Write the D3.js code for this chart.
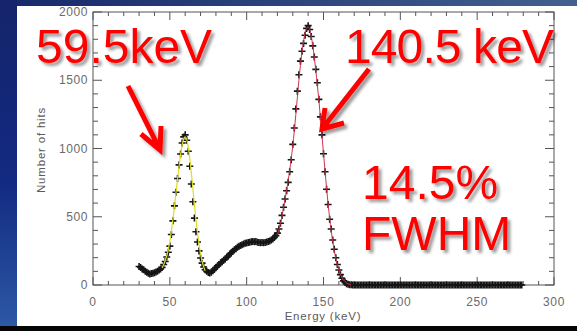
<!DOCTYPE html>
<html>
<head>
<meta charset="utf-8">
<script src="https://cdn.jsdelivr.net/npm/d3@7"></script>
<style>
  body { margin: 0; background: #fff; }
  svg { display: block; }
  .tick-label { font-family: "Liberation Sans", Arial, sans-serif; font-size: 12px; fill: #6a6a6a; letter-spacing: 0.6px; }
  .axis-title { font-family: "Liberation Sans", Arial, sans-serif; font-size: 11.5px; fill: #5a5a5a; letter-spacing: 0.8px; }
  .big { font-family: "Liberation Sans", Arial, sans-serif; font-size: 48px; fill: #ff0000; }
</style>
</head>
<body>
<svg id="chart" width="577" height="331"></svg>
<script>
// spectrum: 1 keV bins starting at 30 keV
var binStart = 30;
var counts = [
  135, 128, 118, 112, 100, 93, 86, 80, 84, 86,          // 30-39
  90, 96, 101, 110, 118, 128, 150, 172, 205, 240,       // 40-49
  285, 370, 470, 580, 680, 780, 880, 960, 1040, 1085,   // 50-59
  1100, 1060, 980, 870, 740, 610, 490, 390, 315, 250,   // 60-69
  198, 160, 132, 112, 100, 92, 88, 94, 104, 116,        // 70-79
  128, 140, 150, 161, 170, 182, 190, 201, 212, 226,     // 80-89
  236, 248, 259, 266, 277, 283, 290, 294, 301, 305,     // 90-99
  308, 312, 313, 317, 318, 316, 318, 313, 312, 309,     // 100-109
  311, 309, 312, 315, 318, 323, 329, 337, 348, 362,     // 110-119
  380, 410, 452, 510, 570, 630, 690, 752, 830, 918,     // 120-129
  1030, 1150, 1290, 1420, 1540, 1640, 1712, 1770, 1830, 1880, // 130-139
  1900, 1872, 1820, 1752, 1670, 1580, 1482, 1360, 1232, 1100, // 140-149
  962, 830, 702, 590, 482, 410, 330, 262, 200, 150,     // 150-159
  110, 76, 50, 30, 18, 10, 5, 2, 1,                     // 160-168
  0, 0, 0, 0, 0, 0, 0, 0, 0, 0, 0,                      // 169-179
  0, 0, 0, 0, 0, 0, 0, 0, 0, 0,
  0, 0, 0, 0, 0, 0, 0, 0, 0, 0,
  0, 0, 0, 0, 0, 0, 0, 0, 0, 0,
  0, 0, 0, 0, 0, 0, 0, 0, 0, 0,
  0, 0, 0, 0, 0, 0, 0, 0, 0, 0,
  0, 0, 0, 0, 0, 0, 0, 0, 0, 0,
  0, 0, 0, 0, 0, 0, 0, 0, 0, 0,
  0, 0, 0, 0, 0, 0, 0, 0, 0, 0,
  0, 0, 0, 0, 0, 0, 0, 0, 0, 0,
  0, 0, 0, 0, 0, 0, 0, 0, 0, 0                          // 270-279
];

// gaussian fits, 1 keV steps
var yellowStart = 45;
var yellowFit = [125, 150, 180, 215, 260, 320, 395, 480, 575, 675,
  775, 870, 955, 1025, 1070, 1085, 1065, 1010, 925, 820,
  705, 590, 480, 385, 300, 230, 175, 135, 105];
var redStart = 120;
var redFit = [370, 405, 450, 505, 565, 630, 695, 765, 840, 925,
  1020, 1130, 1250, 1375, 1500, 1610, 1705, 1785, 1845, 1880,
  1890, 1872, 1825, 1755, 1668, 1570, 1465, 1350, 1225, 1095,
  965, 835, 710, 595, 490, 400, 320, 252, 195, 148,
  110, 80, 56, 38, 25, 15, 8, 4, 1];

var xTicks = [0, 50, 100, 150, 200, 250, 300];
var yTicks = [0, 500, 1000, 1500, 2000];
var xTitle = "Energy (keV)";
var yTitle = "Number of hits";

var svg = d3.select("#chart");

// slide background
var defs = svg.append("defs");
var g1 = defs.append("linearGradient").attr("id", "slideBg").attr("x1", 0).attr("y1", 0).attr("x2", 0).attr("y2", 1);
g1.append("stop").attr("offset", "0%").attr("stop-color", "#15246a");
g1.append("stop").attr("offset", "55%").attr("stop-color", "#122a82");
g1.append("stop").attr("offset", "100%").attr("stop-color", "#2d5aa6");
var g2 = defs.append("linearGradient").attr("id", "topBand").attr("x1", 0).attr("y1", 0).attr("x2", 1).attr("y2", 0);
g2.append("stop").attr("offset", "0%").attr("stop-color", "#182a6c");
g2.append("stop").attr("offset", "100%").attr("stop-color", "#42608e");
var shadow = defs.append("filter").attr("id", "shadow").attr("x", "-10%").attr("y", "-10%").attr("width", "130%").attr("height", "130%");
shadow.append("feDropShadow").attr("dx", 3).attr("dy", 3).attr("stdDeviation", 1.8)
  .attr("flood-color", "#000").attr("flood-opacity", 0.4);

svg.append("rect").attr("width", 577).attr("height", 331).attr("fill", "url(#slideBg)");
svg.append("rect").attr("x", 17).attr("width", 560).attr("height", 6).attr("fill", "url(#topBand)");
svg.append("rect").attr("x", 17).attr("y", 6).attr("width", 560).attr("height", 320).attr("fill", "#fff");
svg.append("rect").attr("x", 0).attr("y", 326).attr("width", 577).attr("height", 5).attr("fill", "#050505");

var x = d3.scaleLinear().domain([0, 300]).range([93, 554]);
var y = d3.scaleLinear().domain([0, 2000]).range([285, 12]);

// frame + inward ticks (IDL style)
var axis = svg.append("g").attr("stroke", "#555").attr("stroke-width", 1).attr("fill", "none");
axis.append("rect").attr("x", x(0)).attr("y", y(2000))
  .attr("width", x(300) - x(0)).attr("height", y(0) - y(2000));

d3.range(0, 301, 10).forEach(function(v) {
  var major = v % 50 == 0;
  var len = major ? 8 : 4;
  axis.append("line").attr("x1", x(v)).attr("x2", x(v)).attr("y1", y(0)).attr("y2", y(0) - len);
  axis.append("line").attr("x1", x(v)).attr("x2", x(v)).attr("y1", y(2000)).attr("y2", y(2000) + len);
});
d3.range(0, 2001, 100).forEach(function(v) {
  var major = v % 500 == 0;
  var len = major ? 9 : 5;
  axis.append("line").attr("y1", y(v)).attr("y2", y(v)).attr("x1", x(0)).attr("x2", x(0) + len);
  axis.append("line").attr("y1", y(v)).attr("y2", y(v)).attr("x1", x(300)).attr("x2", x(300) - len);
});

svg.selectAll(".xl").data(xTicks).enter().append("text")
  .attr("class", "tick-label").attr("text-anchor", "middle")
  .attr("x", function(d) { return x(d); }).attr("y", 306).text(function(d) { return d; });
svg.selectAll(".yl").data(yTicks).enter().append("text")
  .attr("class", "tick-label").attr("text-anchor", "end")
  .attr("x", 88).attr("y", function(d) { return y(d) + 4; }).text(function(d) { return d; });

svg.append("text").attr("class", "axis-title").attr("text-anchor", "middle")
  .attr("x", 323).attr("y", 320).text(xTitle);
svg.append("text").attr("class", "axis-title").attr("text-anchor", "middle")
  .attr("transform", "translate(45,150) rotate(-90)").text(yTitle);

// data crosses
var pts = counts.map(function(c, i) { return { e: binStart + i, c: c }; });
svg.append("g").selectAll("path").data(pts).enter().append("path")
  .attr("d", function(d) {
    var px = x(d.e), py = y(d.c);
    return "M" + (px - 3.5) + "," + py + "H" + (px + 3.5) + "M" + px + "," + (py - 3.5) + "V" + (py + 3.5);
  })
  .attr("stroke", "#151515").attr("stroke-width", 1.6).attr("fill", "none");

var line = d3.line()
  .x(function(d) { return x(d.e); })
  .y(function(d) { return y(d.c); })
  .curve(d3.curveMonotoneX);

svg.append("path")
  .datum(yellowFit.map(function(c, i) { return { e: yellowStart + i, c: c }; }))
  .attr("d", line).attr("fill", "none").attr("stroke", "#dede22").attr("stroke-width", 1.2);
svg.append("path")
  .datum(redFit.map(function(c, i) { return { e: redStart + i, c: c }; }))
  .attr("d", line).attr("fill", "none").attr("stroke", "#d0324a").attr("stroke-width", 1);

// red annotations
var notes = svg.append("g").attr("filter", "url(#shadow)");
notes.append("text").attr("class", "big").attr("x", 36).attr("y", 63).text("59.5keV");
notes.append("text").attr("class", "big").attr("x", 345).attr("y", 63).attr("textLength", 209).text("140.5 keV");
notes.append("text").attr("class", "big").attr("x", 362).attr("y", 199).text("14.5%");
notes.append("text").attr("class", "big").attr("x", 362).attr("y", 250).text("FWHM");

var arrows = [
  { from: [128, 86], to: [160, 150], w1: [141, 134], w2: [161, 126] },
  { from: [369, 69], to: [322, 129], w1: [325, 108], w2: [344, 123] }
];
arrows.forEach(function(a) {
  notes.append("path")
    .attr("d", "M" + a.from + "L" + a.to + "M" + a.w1 + "L" + a.to + "L" + a.w2)
    .attr("stroke", "#ff0000").attr("stroke-width", 5).attr("fill", "none")
    .attr("stroke-linecap", "butt").attr("stroke-linejoin", "miter");
});
</script>
</body>
</html>
